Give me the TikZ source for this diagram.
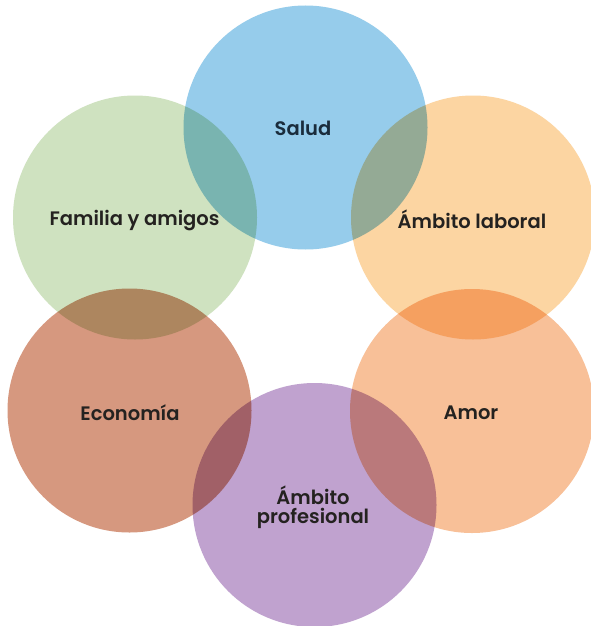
\documentclass[tikz,border=0pt]{standalone}
\usepackage{fontspec}
\IfFontExistsTF{Poppins SemiBold}{\newfontfamily\lblfont{Poppins SemiBold}}{%
  \IfFontExistsTF{Poppins Medium}{\newfontfamily\lblfont{Poppins Medium}}{\newfontfamily\lblfont{Poppins}}}
\definecolor{cblue}{RGB}{150,204,235}
\definecolor{cgreen}{RGB}{207,226,192}
\definecolor{clight}{RGB}{252,213,162}
\definecolor{csalmon}{RGB}{214,152,127}
\definecolor{cpeach}{RGB}{248,192,152}
\definecolor{cviolet}{RGB}{192,162,207}
\definecolor{txt}{RGB}{36,34,32}
\definecolor{txtblue}{RGB}{26,44,60}
\tikzset{
  bubble/.style={circle, minimum size=244pt, inner sep=0pt, draw=none},
  lbl/.style={font=\lblfont\fontsize{19.5}{19}\selectfont, text=txt, align=center, inner sep=0pt}
}
\begin{document}
\begin{tikzpicture}[x=1pt,y=-1pt]
\useasboundingbox (0,0) rectangle (591,626);
\fill[white] (0,0) rectangle (591,626);
\begin{scope}[blend mode=multiply]
\node[bubble, fill=cblue]   (salud)  at (305.5,127.5) {};
\node[bubble, fill=cgreen]  (fam)    at (135,217.5) {};
\node[bubble, fill=clight]  (lab)    at (473,217.5) {};
\node[bubble, fill=csalmon] (eco)    at (129.5,410.5) {};
\node[bubble, fill=cpeach]  (amor)   at (472,411) {};
\node[bubble, fill=cviolet] (prof)   at (314.5,505) {};
\end{scope}
\node[lbl, text=txtblue] (tsalud) at (303,128) {Salud};
\node[lbl] (tfam)  at (134.5,221) {Familia y amigos};
\node[lbl] (tlab)  at (472,219) {Ámbito laboral};
\node[lbl] (teco)  at (130,413) {Economía};
\node[lbl] (tamor) at (471,413) {Amor};
\node[lbl] (tprof) at (313,507) {Ámbito\\profesional};
\end{tikzpicture}
\end{document}
